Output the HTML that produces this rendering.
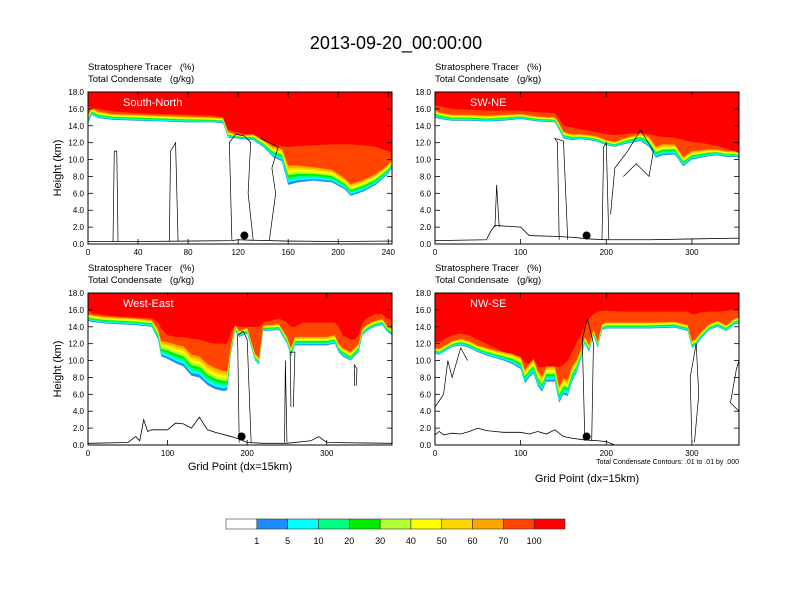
<!DOCTYPE html>
<html><head><meta charset="utf-8"><style>
body{margin:0;background:#fff;font-family:"Liberation Sans",sans-serif}
svg{display:block}
</style></head><body>
<svg id="chart" width="792" height="612" xmlns="http://www.w3.org/2000/svg" font-family="Liberation Sans, sans-serif">
<rect width="792" height="612" fill="#fff"/>
<text x="396" y="49" font-size="18" text-anchor="middle">2013-09-20_00:00:00</text>
</svg>
<script>
const colors=["#ffffff","#1e8cff","#00ffff","#00ff80","#00ee00","#b0ff30","#ffff00","#ffd700","#ffa500","#ff4500","#ff0000"];
const levelLabels=["1","5","10","20","30","40","50","60","70","100"];
// Panel: South-North
const snX=[0,3,8,20,40,60,80,100,108,112,118,125,132,140,148,155,160,168,180,195,205,210,220,230,240,243];
const snBase=[14.3,15.3,14.9,14.7,14.6,14.5,14.4,14.4,14.3,12.6,12.5,12.4,12.3,11.5,10.3,9.8,7.0,7.3,7.5,7.3,6.5,5.7,6.2,7.0,8.3,9.0];
const snDepth=[1.0,0.8,0.8,0.7,0.7,0.7,0.7,0.6,0.6,0.7,0.5,0.5,0.7,0.8,1.2,1.5,2.3,2.0,1.6,1.5,1.3,1.4,1.4,1.3,1.1,1.0];
const snRed=[16.3,16.0,16.0,15.7,15.5,15.4,15.3,15.2,15.0,13.5,13.3,13.0,12.5,12.0,11.8,11.6,11.5,11.6,11.7,11.8,11.8,11.8,11.7,11.5,11.0,10.8];
const snTerrX=[0,40,80,115,120,130,160,200,243];
const snTerrY=[0.3,0.3,0.35,0.4,0.5,0.45,0.35,0.3,0.35];
const snContours=[
 [[20,0.3],[21,11],[23,11],[24,0.3]],
 [[115,0.5],[113,12],[118,13],[125,12.8],[130,12],[128,6],[132,0.5]],
 [[145,0.5],[150,6],[147,9],[152,11.5],[138,12.5]],
 [[65,0.3],[66,11],[70,12],[72,0.3]]
];
// Panel: SW-NE
const swX=[0,5,20,40,60,80,100,120,140,145,150,160,170,180,190,200,210,220,230,240,250,258,265,280,290,300,310,320,330,340,350,355];
const swBase=[15.0,14.8,14.6,14.6,14.5,14.6,14.8,14.5,14.4,13.5,12.5,12.3,12.4,12.3,12.1,11.7,11.5,11.8,12.0,12.2,11.5,10.2,10.5,10.6,9.2,10.0,10.2,10.4,10.5,10.3,10.3,10.2];
const swDepth=[0.9,0.8,0.7,0.7,0.7,0.7,0.6,0.6,0.6,0.8,0.8,0.7,0.6,0.6,0.6,0.6,0.6,0.7,0.8,0.9,1.2,1.3,1.3,1.2,1.1,1.0,0.9,0.8,0.7,0.7,0.7,0.6];
const swRed=[16.5,16.3,16.0,15.9,15.8,15.8,15.8,15.6,15.5,14.8,14.0,13.8,13.6,13.4,13.2,13.0,12.9,13.0,13.1,13.2,13.0,12.8,12.7,12.6,12.3,12.1,12.0,11.8,11.6,11.3,10.9,10.7];
const swTerrX=[0,60,65,70,100,110,140,160,180,200,250,300,355];
const swTerrY=[0.4,0.5,1.5,2.2,2.0,1.0,0.9,0.8,0.6,0.5,0.5,0.6,0.7];
const swContours=[
 [[145,0.5],[143,12],[140,12.5],[150,12.2],[155,0.5]],
 [[195,0.5],[197,11.5],[200,12],[203,0.5]],
 [[205,3.5],[210,9],[225,11],[240,13.5],[255,11],[250,8],[235,9.5],[220,8]],
 [[70,2],[72,7],[75,2]]
];
// Panel: West-East
const weX=[0,5,20,40,60,80,88,92,100,110,120,130,140,150,160,170,175,180,185,190,195,200,210,215,220,240,250,255,260,270,280,300,310,315,320,330,335,340,345,350,360,370,375,382];
const weBase=[14.7,14.6,14.4,14.3,14.2,14.0,12.5,10.5,10.2,9.7,9.3,8.2,8.0,7.1,6.6,6.4,6.5,11.0,13.5,12.8,13.0,13.2,10.0,9.5,13.5,13.6,12.0,10.5,11.8,11.8,11.8,11.8,12.0,11.0,10.5,10.0,10.5,11.0,13.0,13.5,14.0,14.2,13.5,13.0];
const weDepth=[0.8,0.8,0.8,0.8,0.8,0.8,1.2,1.8,2.0,2.2,2.4,2.5,2.5,2.5,2.5,2.4,2.2,1.0,0.7,0.7,0.7,0.7,0.8,0.8,0.7,0.7,0.8,1.0,1.0,1.0,1.0,1.0,1.0,1.0,1.0,1.0,1.0,1.0,0.8,0.7,0.7,0.7,0.7,0.7];
const weRed=[16.0,15.6,15.4,15.2,15.1,15.0,14.5,13.8,13.0,12.8,12.8,12.6,12.5,12.2,12.0,12.0,12.0,13.5,14.0,14.0,14.0,14.0,14.0,14.0,14.5,15.0,14.5,14.0,14.0,14.5,14.5,14.5,14.5,14.0,13.0,12.5,12.5,13.0,14.5,15.0,15.5,15.5,15.0,14.8];
const weTerrX=[0,50,60,65,70,75,80,100,110,120,130,140,150,160,180,190,200,220,250,280,290,300,382];
const weTerrY=[0.2,0.3,1.0,0.5,3.0,1.6,1.8,1.8,2.6,2.5,2.0,3.3,1.8,1.5,1.0,0.7,0.3,0.2,0.2,0.5,1.0,0.3,0.2];
const weContours=[
 [[190,0.3],[188,13],[195,13.5],[200,12.5],[205,0.3]],
 [[247,0.3],[248,10],[250,0.3]],
 [[255,4.5],[254,11],[260,11],[258,4.5]],
 [[335,7],[335,9.5],[338,9],[337,7]]
];
// Panel: NW-SE
const nwX=[0,5,10,20,30,40,50,60,70,80,90,100,105,110,115,120,125,130,140,145,150,155,160,165,170,175,180,185,190,195,200,220,250,280,295,300,305,310,320,330,340,350,355];
const nwBase=[10.8,10.7,11.0,11.6,11.8,11.5,11.0,10.6,10.3,10.0,9.6,9.0,7.3,8.0,8.5,7.0,6.3,7.5,7.5,5.0,6.0,5.8,7.5,8.5,10.0,12.0,11.0,13.0,11.5,13.6,13.8,13.8,13.8,13.9,13.5,11.5,11.8,12.5,13.6,14.0,13.5,14.3,14.4];
const nwDepth=[0.7,0.7,0.7,0.7,0.8,0.8,0.8,0.9,0.9,1.0,1.2,1.4,1.6,1.6,1.7,1.8,1.8,1.8,1.8,1.9,1.9,1.9,1.8,1.5,1.2,0.8,0.8,0.7,0.7,0.7,0.7,0.7,0.7,0.7,0.7,0.8,0.8,0.8,0.7,0.7,0.7,0.7,0.7];
const nwRed=[12.2,12.2,12.5,13.0,13.2,13.0,12.5,12.0,11.5,11.0,10.5,10.0,9.8,9.6,9.5,9.3,9.2,9.1,9.0,9.2,9.5,10.0,11.0,12.0,13.0,14.0,15.0,15.5,15.8,15.9,15.9,15.8,15.8,15.8,15.8,15.5,15.5,15.7,15.8,15.8,15.9,16.0,16.0];
const nwTerrX=[0,5,10,20,30,40,50,60,70,80,90,100,110,120,130,140,150,160,175,190,200,210];
const nwTerrY=[1.2,1.6,1.2,1.4,1.3,1.6,2.0,1.7,1.6,1.5,1.5,1.5,1.3,1.6,1.3,1.8,1.0,0.8,0.6,0.5,0.4,0.0];
const nwContours=[
 [[0,4.5],[10,6],[15,10],[20,8],[30,11.5],[38,10]],
 [[175,0.5],[172,12.5],[178,15],[185,12],[183,0.5]],
 [[300,0.3],[298,8],[305,12],[308,6],[303,0.3]],
 [[355,4],[345,5],[352,9],[355,10]]
];

const panels=[
 {name:"south-north",label:"South-North",x0:88,y0:92,xmax:243,ticks:[0,40,80,120,160,200,240],X:snX,B:snBase,D:snDepth,R:snRed,TX:snTerrX,TY:snTerrY,C:snContours,dot:125,ylab:true,xt:0},
 {name:"sw-ne",label:"SW-NE",x0:435,y0:92,xmax:355,ticks:[0,100,200,300],X:swX,B:swBase,D:swDepth,R:swRed,TX:swTerrX,TY:swTerrY,C:swContours,dot:177,ylab:false,xt:0},
 {name:"west-east",label:"West-East",x0:88,y0:293,xmax:382,ticks:[0,100,200,300],X:weX,B:weBase,D:weDepth,R:weRed,TX:weTerrX,TY:weTerrY,C:weContours,dot:193,ylab:true,xt:25},
 {name:"nw-se",label:"NW-SE",x0:435,y0:293,xmax:355,ticks:[0,100,200,300],X:nwX,B:nwBase,D:nwDepth,R:nwRed,TX:nwTerrX,TY:nwTerrY,C:nwContours,dot:177,ylab:false,xt:37,note:true}
];
const NS="http://www.w3.org/2000/svg";
const svg=document.getElementById('chart');
function mk(tag,attrs,parent,txt){const e=document.createElementNS(NS,tag);for(const k in attrs)e.setAttribute(k,attrs[k]);if(txt!==undefined)e.textContent=txt;(parent||svg).appendChild(e);return e;}
const W=304,H=152;
panels.forEach(p=>{
 const g=mk('g',{});
 
 
 const sx=v=>p.x0+v/p.xmax*W, sy=v=>p.y0+H-v/18*H;
 const clipId='clip-'+p.name;
 const cp=mk('clipPath',{id:clipId},g);mk('rect',{x:p.x0,y:p.y0,width:W,height:H},cp);
 const fg=mk('g',{'clip-path':'url(#'+clipId+')'},g);
 for(let k=1;k<=10;k++){
  const pts=[[sx(p.X[0]),sy(18)]];
  p.X.forEach((xv,i)=>{
   let h;
   if(k<=9) h=p.B[i]+p.D[i]*(k-1)/8;
   else h=Math.max(p.R[i],p.B[i]+p.D[i]);
   pts.push([sx(xv),sy(Math.min(h,18))]);
  });
  pts.push([sx(p.X[p.X.length-1]),sy(18)]);
  const poly=mk('polygon',{points:pts.map(a=>a.join(',')).join(' '),fill:colors[k]},fg);
  
  
 }
 p.C.forEach(c=>{
  const pl=mk('polyline',{points:c.map(q=>sx(q[0])+','+sy(q[1])).join(' '),fill:'none',stroke:'#000','stroke-width':0.7},fg);
  
  
 });
 const tl=mk('polyline',{points:p.TX.map((xv,i)=>sx(xv)+','+sy(p.TY[i])).join(' '),fill:'none',stroke:'#000','stroke-width':0.8},fg);
 
 
 const dt=mk('circle',{cx:sx(p.dot),cy:sy(1.0),r:4,fill:'#000'},g);
 
 
 const fr=mk('rect',{x:p.x0,y:p.y0,width:W,height:H,fill:'none',stroke:'#000','stroke-width':1},g);
 
 
 for(let v=0;v<=18;v+=2){
  const y=sy(v);
  mk('line',{x1:p.x0,x2:p.x0+5,y1:y,y2:y,stroke:'#000','stroke-width':0.8},g);
  mk('line',{x1:p.x0+W,x2:p.x0+W-5,y1:y,y2:y,stroke:'#000','stroke-width':0.8},g);
  const t=mk('text',{x:p.x0-4,y:y+3,'font-size':8,'text-anchor':'end'},g,v.toFixed(1));
  
  
 }
 p.ticks.forEach(v=>{
  const x=sx(v);
  mk('line',{x1:x,x2:x,y1:p.y0+H,y2:p.y0+H-5,stroke:'#000','stroke-width':0.8},g);
  mk('line',{x1:x,x2:x,y1:p.y0,y2:p.y0+5,stroke:'#000','stroke-width':0.8},g);
  const t=mk('text',{x:x,y:p.y0+H+11,'font-size':8,'text-anchor':'middle'},g,String(v));
  
  
 });
 const l1=mk('text',{x:p.x0,y:p.y0-22,'font-size':9.5},g,'Stratosphere Tracer   (%)');
 
 
 l1.style.whiteSpace='pre';
 const l2=mk('text',{x:p.x0,y:p.y0-10,'font-size':9.5},g,'Total Condensate   (g/kg)');
 
 
 l2.style.whiteSpace='pre';
 const lb=mk('text',{x:p.x0+35,y:p.y0+14,'font-size':11,fill:'#fff'},g,p.label);
 
 
 if(p.ylab){
  const yt=mk('text',{x:0,y:0,'font-size':11,'text-anchor':'middle',transform:`translate(${p.x0-27},${p.y0+H/2}) rotate(-90)`},g,'Height (km)');
  
  
 }
 if(p.xt){
  const xt=mk('text',{x:p.x0+W/2,y:p.y0+H+p.xt,'font-size':11,'text-anchor':'middle'},g,'Grid Point (dx=15km)');
  
  
 }
 if(p.note){
  const n=mk('text',{x:p.x0+W,y:p.y0+H+19,'font-size':7,'text-anchor':'end'},g,'Total Condensate Contours: .01 to .01 by .000');
  
  
 }
});
const cb=mk('g',{});


const cbx=226,cbw=339/11;
colors.forEach((c,i)=>{
 const r=mk('rect',{x:cbx+i*cbw,y:519,width:cbw,height:10,fill:c,stroke:'#333','stroke-width':0.6},cb);
 
 
});
levelLabels.forEach((s,i)=>{
 const t=mk('text',{x:cbx+(i+1)*cbw,y:544,'font-size':9,'text-anchor':'middle'},cb,s);
 
 
});
</script>
</body></html>
